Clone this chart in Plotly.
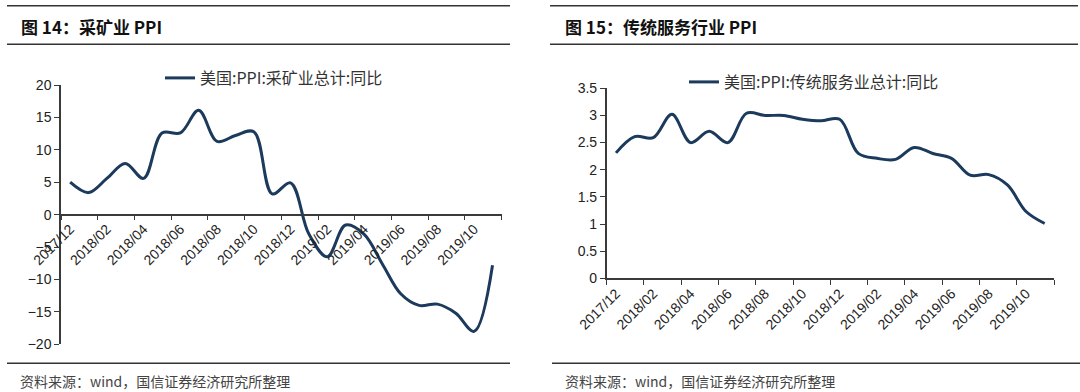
import plotly.graph_objects as go

months = ["2017/12", "2018/01", "2018/02", "2018/03", "2018/04", "2018/05", "2018/06",
          "2018/07", "2018/08", "2018/09", "2018/10", "2018/11", "2018/12", "2019/01",
          "2019/02", "2019/03", "2019/04", "2019/05", "2019/06", "2019/07", "2019/08",
          "2019/09", "2019/10", "2019/11"]

mining = [5.0, 3.4, 5.6, 7.9, 5.6, 12.6, 12.6, 16.1, 11.3, 12.2, 12.8, 3.2, 4.9,
          -3.0, -6.5, -1.6, -3.0, -7.6, -12.2, -14.0, -13.8, -15.2, -18.0, -7.8]

services = [2.31, 2.61, 2.59, 3.02, 2.5, 2.71, 2.5, 3.04, 3.0, 3.0, 2.93, 2.9, 2.93,
            2.3, 2.21, 2.19, 2.41, 2.3, 2.21, 1.9, 1.91, 1.72, 1.23, 1.01]

name_mining = "美国:PPI:采矿业总计:同比"
name_services = "美国:PPI:传统服务业总计:同比"
title_left = "图 14：采矿业 PPI"
title_right = "图 15：传统服务行业 PPI"
source_text = "资料来源：wind，国信证券经济研究所整理"

W, H = 1080, 392
def px(x):
    return x / W
def py(y):
    return 1 - y / H

LINE_COLOR = "#1B3A5C"
AX_COLOR = "#3a3a3a"
NUM_FONT = "Liberation Sans, Arial, sans-serif"
CJK_FONT = "Noto Sans CJK SC, sans-serif"

left_xd = [px(61), px(501.7)]
left_yd = [py(344.3), py(85)]
right_xd = [px(606.7), px(1054)]
right_yd = [py(278.3), py(88.3)]

fig = go.Figure()
fig.add_trace(go.Scatter(x=months, y=mining, mode="lines", name=name_mining,
                         line=dict(color=LINE_COLOR, width=3, shape="spline", smoothing=1.0),
                         xaxis="x", yaxis="y", legend="legend"))
fig.add_trace(go.Scatter(x=months, y=services, mode="lines", name=name_services,
                         line=dict(color=LINE_COLOR, width=3, shape="spline", smoothing=1.0),
                         xaxis="x2", yaxis="y2", legend="legend2"))

xcommon = dict(type="category", tickmode="linear", tick0=0, dtick=2, tickangle=-45,
               ticks="outside", tickson="boundaries", ticklen=5, tickwidth=1.3,
               tickcolor=AX_COLOR, showline=True, linecolor=AX_COLOR, linewidth=1.5,
               showgrid=False, zeroline=False, range=[-0.5, len(months) - 0.5],
               tickfont=dict(family=NUM_FONT, size=14, color="#222"))
ycommon = dict(ticks="outside", ticklen=5, tickwidth=1.3, tickcolor=AX_COLOR,
               showline=True, linecolor=AX_COLOR, linewidth=1.5, showgrid=False,
               zeroline=False, tickfont=dict(family=NUM_FONT, size=14, color="#222"))

zero_pos = left_yd[0] + (left_yd[1] - left_yd[0]) * 0.5

fig.update_layout(
    width=W, height=H, margin=dict(l=0, r=0, t=0, b=0, pad=0, autoexpand=False),
    paper_bgcolor="white", plot_bgcolor="white", showlegend=True,
    xaxis=dict(domain=left_xd, anchor="free", position=zero_pos, **xcommon),
    yaxis=dict(domain=left_yd, anchor="x", range=[-20, 20], dtick=5, **ycommon),
    xaxis2=dict(domain=right_xd, anchor="y2", **xcommon),
    yaxis2=dict(domain=right_yd, anchor="x2", range=[0, 3.5], dtick=0.5, **ycommon),
    legend=dict(x=px(160), y=py(78), xanchor="left", yanchor="middle",
                font=dict(family=CJK_FONT, size=16, color="#333"), bgcolor="rgba(0,0,0,0)"),
    legend2=dict(x=px(684), y=py(82), xanchor="left", yanchor="middle",
                 font=dict(family=CJK_FONT, size=16, color="#333"), bgcolor="rgba(0,0,0,0)"),
)

shapes = []
for (x0, x1) in [(7, 510), (550, 1078)]:
    for yy in [5.7, 44.3]:
        shapes.append(dict(type="line", xref="paper", yref="paper", x0=px(x0), x1=px(x1),
                           y0=py(yy), y1=py(yy), line=dict(color="#333", width=1.6)))
for (x0, x1) in [(7, 510), (552, 1080)]:
    shapes.append(dict(type="line", xref="paper", yref="paper", x0=px(x0), x1=px(x1),
                       y0=py(363.3), y1=py(363.3), line=dict(color="#333", width=1.6)))
fig.update_layout(shapes=shapes)

annotations = []
for xx, t in [(19, title_left), (563, title_right)]:
    annotations.append(dict(x=px(xx), y=py(26), xref="paper", yref="paper", text="<b>" + t + "</b>",
                            showarrow=False, xanchor="left", yanchor="middle",
                            font=dict(family=CJK_FONT, size=17, color="#111")))
for xx in [18, 563]:
    annotations.append(dict(x=px(xx), y=py(381), xref="paper", yref="paper", text=source_text,
                            showarrow=False, xanchor="left", yanchor="middle",
                            font=dict(family=CJK_FONT, size=14, color="#444")))
fig.update_layout(annotations=annotations)

fig.write_html("out.html", config={"displayModeBar": False},
               post_script="document.body.style.margin='0';document.body.style.overflow='hidden';")
